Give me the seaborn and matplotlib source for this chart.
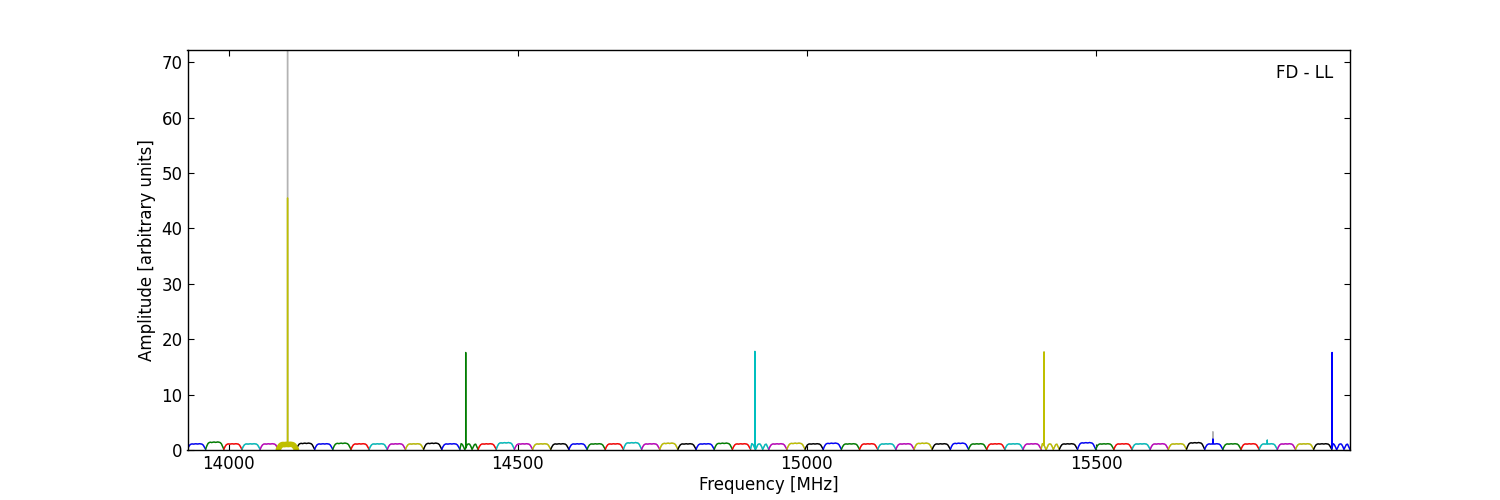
import numpy as np
import pandas as pd
import seaborn as sns
import matplotlib
matplotlib.use("Agg")
import matplotlib.pyplot as plt

# sub-band layout
f_start = 13929.0
f_stop = 15939.0
n_seg = 64

# classic matplotlib colour cycle
seg_colors = ["b", "g", "r", "c", "m", "y", "k"]

# bandpass shape of one sub-band (normalised), and notched shape next to a spike
profile = [0.12, 0.55, 0.85, 0.97, 1.0, 0.96, 1.0, 1.03, 0.98, 1.0, 1.04, 1.0, 0.96, 0.8, 0.45, 0.1]
notch_profile = [0.2, 1.05, 0.9, 0.5, 0.05, 0.45, 0.9, 1.0, 0.95, 0.6, 0.1, 0.5, 0.9, 0.95, 0.5, 0.1]

# peak level of each sub-band
seg_level = [1.1, 1.4, 1.1, 1.1, 1.1, 1.0, 1.2, 1.1, 1.2, 1.1, 1.1, 1.1, 1.1, 1.2, 1.1, 1.1,
             1.1, 1.3, 1.1, 1.1, 1.1, 1.1, 1.1, 1.1, 1.3, 1.1, 1.2, 1.1, 1.1, 1.2, 1.1, 1.1,
             1.1, 1.2, 1.1, 1.2, 1.1, 1.1, 1.1, 1.1, 1.2, 1.1, 1.2, 1.1, 1.1, 1.1, 1.1, 1.1,
             1.1, 1.3, 1.1, 1.1, 1.1, 1.1, 1.1, 1.3, 1.1, 1.1, 1.1, 1.1, 1.1, 1.1, 1.1, 1.1]
notched = [15, 31, 47, 63]

# narrow lines: frequency, cleaned amplitude, raw amplitude
spike_freq = [14102, 14410, 14910, 15410, 15908, 15702, 15796]
spike_amp = [45.5, 17.6, 17.8, 17.7, 17.6, 2.0, 1.8]
spike_raw = [72.2, 17.6, 17.8, 17.7, 17.6, 3.3, 1.8]

width = (f_stop - f_start) / n_seg
rows = []
for i in range(n_seg):
    lo = f_start + i * width
    hi = lo + width
    shape = notch_profile if i in notched else profile
    x = list(np.linspace(lo, hi, len(shape)))
    y = [v * seg_level[i] for v in shape]
    pts = [(px, py, py, False) for px, py in zip(x, y)]
    for f, a, r in zip(spike_freq, spike_amp, spike_raw):
        if lo <= f < hi:
            base = float(np.interp(f, x, y))
            pts += [(f, base, base, False), (f, a, r, True), (f + 0.05, base, base, False)]
    pts.sort(key=lambda p: p[0])
    for px, py, pr, pk in pts:
        rows.append({"freq": px, "amp": py, "raw": pr, "seg": i, "peak": pk})
df = pd.DataFrame(rows)

sns.set_style("white", {"xtick.direction": "in", "ytick.direction": "in",
                        "xtick.bottom": True, "ytick.left": True})
plt.rcParams["xtick.top"] = True
plt.rcParams["ytick.right"] = True
plt.rcParams["font.family"] = ["DejaVu Sans"]
plt.rcParams["font.size"] = 12
for key in ["text.color", "axes.labelcolor", "xtick.color", "ytick.color"]:
    plt.rcParams[key] = "black"

fig, ax = plt.subplots(figsize=(15, 5), dpi=100)
fig.subplots_adjust(left=0.125, right=0.9, bottom=0.1, top=0.9)

sns.lineplot(data=df, x="freq", y="raw", units="seg", estimator=None, sort=False,
             color="0.7", lw=1.0, ax=ax)
palette = [seg_colors[i % len(seg_colors)] for i in range(n_seg)]
sns.lineplot(data=df, x="freq", y="amp", hue="seg", palette=palette, estimator=None,
             sort=False, lw=1.0, legend=False, ax=ax)
# the sub-band with the strong line is smeared by noise
smear = df[(df["seg"] == 5) & (~df["peak"])]
sns.lineplot(data=smear, x="freq", y="amp", estimator=None, sort=False,
             color="y", lw=4, ax=ax)

ax.set_xlim(df["freq"].min(), df["freq"].max())
ax.set_ylim(0, df["raw"].max())
ax.set_xticks([14000, 14500, 15000, 15500])
ax.set_yticks(range(0, 80, 10))
ax.tick_params(labelsize=12, length=4, color="k")
for s in ax.spines.values():
    s.set_color("k")
    s.set_linewidth(1.0)
ax.set_xlabel("Frequency [MHz]", fontsize=12, labelpad=2)
ax.set_ylabel("Amplitude [arbitrary units]", fontsize=12)
ax.text(0.986, 0.965, "FD - LL", transform=ax.transAxes, ha="right", va="top", fontsize=12)

fig.savefig("out.png")
